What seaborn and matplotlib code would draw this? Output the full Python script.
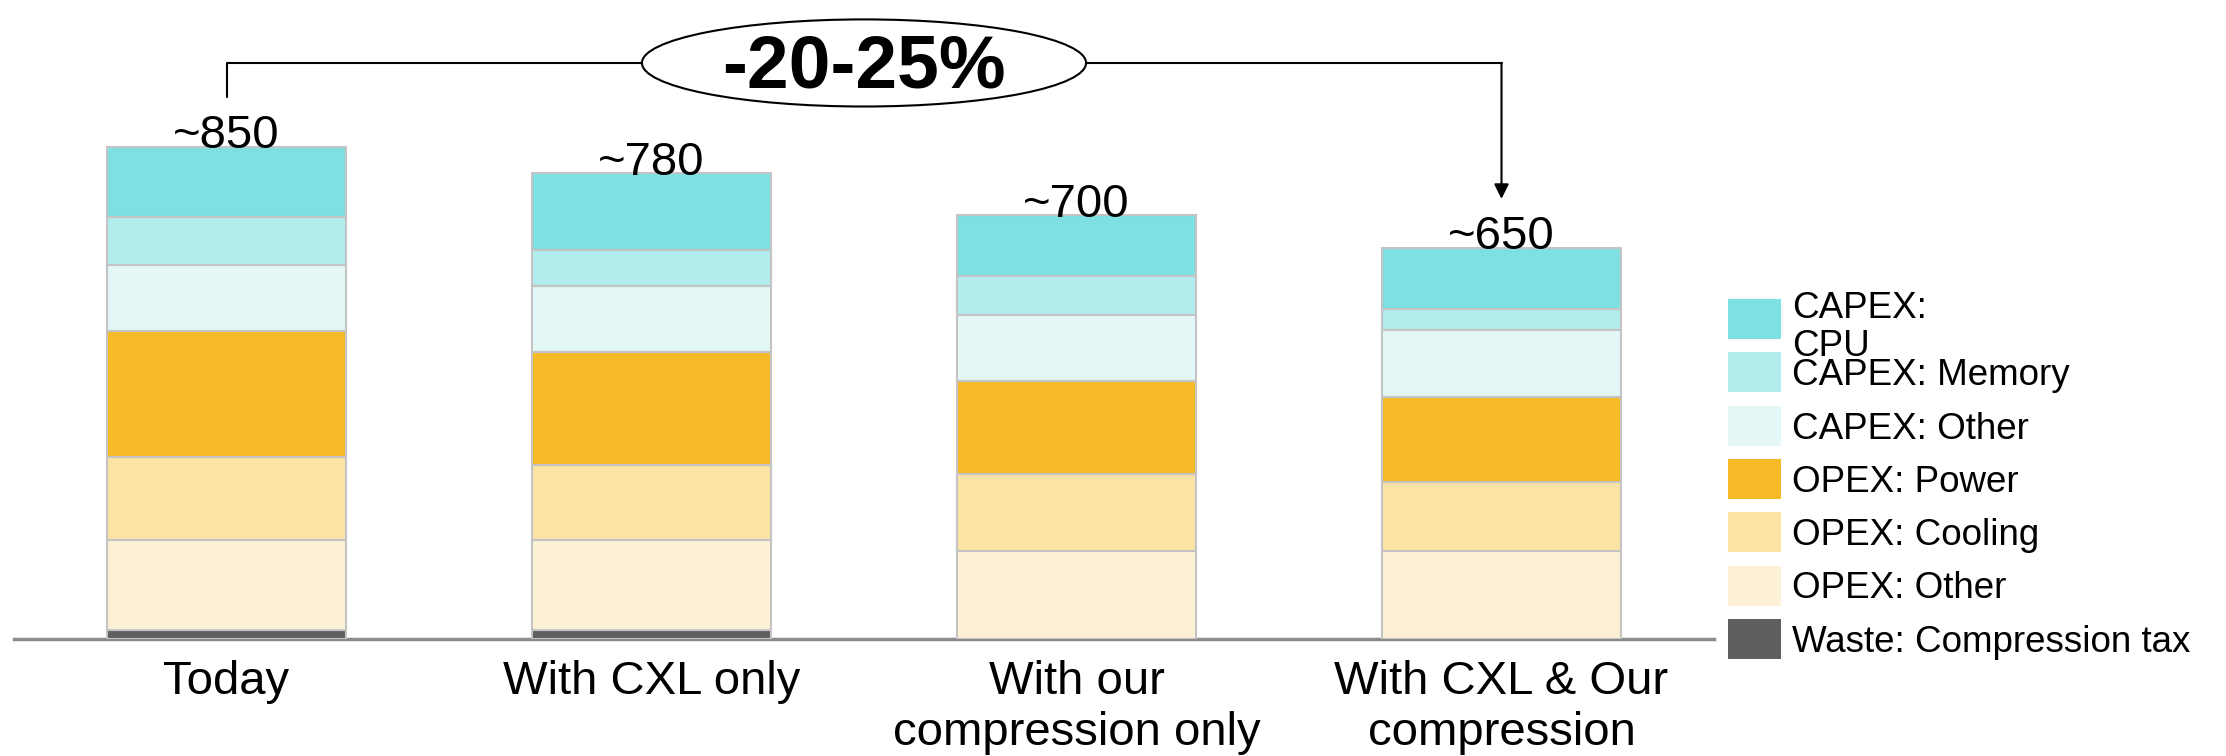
import numpy as np
import pandas as pd
import matplotlib
matplotlib.use('Agg')
import matplotlib.pyplot as plt
from matplotlib.patches import Ellipse, Rectangle
import seaborn as sns

# Data
scenarios = ['Today', 'With CXL only', 'With our\ncompression only', 'With CXL & Our\ncompression']
total_labels = ['~850', '~780', '~700', '~650']

waste = [15, 15, 0, 0]
opex_other = [153, 153, 150, 150]
opex_cooling = [141, 128, 131, 116]
opex_power = [214, 192, 158, 146]
capex_other = [112, 112, 112, 114]
capex_memory = [83, 61, 66, 34]
capex_cpu = [119, 131, 104, 105]

# stacking order, bottom -> top
layers = [waste, opex_other, opex_cooling, opex_power, capex_other, capex_memory, capex_cpu]
layer_names = ['Waste: Compression tax', 'OPEX: Other', 'OPEX: Cooling', 'OPEX: Power',
               'CAPEX: Other', 'CAPEX: Memory', 'CAPEX:\nCPU']
layer_colors = ['#5f5f5f', '#fcf1d5', '#fae3a5', '#f5ba25', '#e3f7f7', '#b2eced', '#7ee0e2']

change_label = '-20-25%'

sns.set_style('white')
plt.rcParams['font.family'] = ['Liberation Sans', 'DejaVu Sans']
plt.rcParams['text.color'] = 'black'
plt.rcParams['xtick.color'] = 'black'

W, H = 2226, 756
fig = plt.figure(figsize=(W / 100, H / 100), dpi=100)
ax = fig.add_axes([14 / W, 117 / H, 1700 / W, 639 / H])

bottom = np.zeros(len(scenarios))
for vals, col in zip(layers, layer_colors):
    sns.barplot(x=scenarios, y=vals, bottom=bottom, color=col, saturation=1,
                width=0.563, edgecolor='#c4c4c4', linewidth=1.5, errorbar=None, ax=ax)
    bottom = bottom + np.array(vals)
totals = bottom

ax.set_xlim(-0.5, len(scenarios) - 0.5)
ax.set_ylim(0, 1086)
ax.set_yticks([])
for s in ['left', 'top', 'right']:
    ax.spines[s].set_visible(False)
ax.spines['bottom'].set_color('#8c8c8c')
ax.spines['bottom'].set_linewidth(2.5)
ax.spines['bottom'].set_zorder(0.5)
ax.tick_params(axis='x', length=0, pad=15, labelsize=34, labelcolor='black')

# totals above the bars
for i, lab in enumerate(total_labels):
    ax.text(i, totals[i] - 3, lab, ha='center', va='baseline', fontsize=34)

# bracket with ellipse
y_br = totals[0] + 142
mid = (len(scenarios) - 1) / 2
ell_w, ell_h = 1.045, 148
ax.plot([0, 0, mid - ell_w / 2], [totals[0] + 84, y_br, y_br], color='black', lw=1.5, clip_on=False)
ax.plot([mid + ell_w / 2, 3], [y_br, y_br], color='black', lw=1.5, clip_on=False)
ax.annotate('', xy=(3, totals[3] + 83), xytext=(3, y_br),
            arrowprops=dict(arrowstyle='-|>', color='black', lw=1.5, mutation_scale=22,
                            shrinkA=0, shrinkB=0), annotation_clip=False)
ax.add_patch(Ellipse((mid, y_br), ell_w, ell_h, facecolor='white', edgecolor='black',
                     lw=1.5, zorder=5, clip_on=False))
ax.text(mid, y_br - 8, change_label, ha='center', va='center', fontsize=54,
        fontweight='bold', zorder=6)

# legend, top -> bottom
box_x, box_w, box_h, top0, pitch = 1728, 53, 40, 299, 53.3
for i, (lab, col) in enumerate(zip(layer_names[::-1], layer_colors[::-1])):
    top = top0 + i * pitch
    fig.patches.append(Rectangle((box_x / W, 1 - (top + box_h) / H), box_w / W, box_h / H,
                                 transform=fig.transFigure, facecolor=col, edgecolor='none'))
    nl = lab.count('\n')
    yb = top + box_h / 2 + 13 + 24 * nl
    fig.text((box_x + box_w + 11) / W, 1 - yb / H, lab, fontsize=26.5, va='baseline',
             linespacing=1.1)

fig.savefig('out.png', dpi=100)
